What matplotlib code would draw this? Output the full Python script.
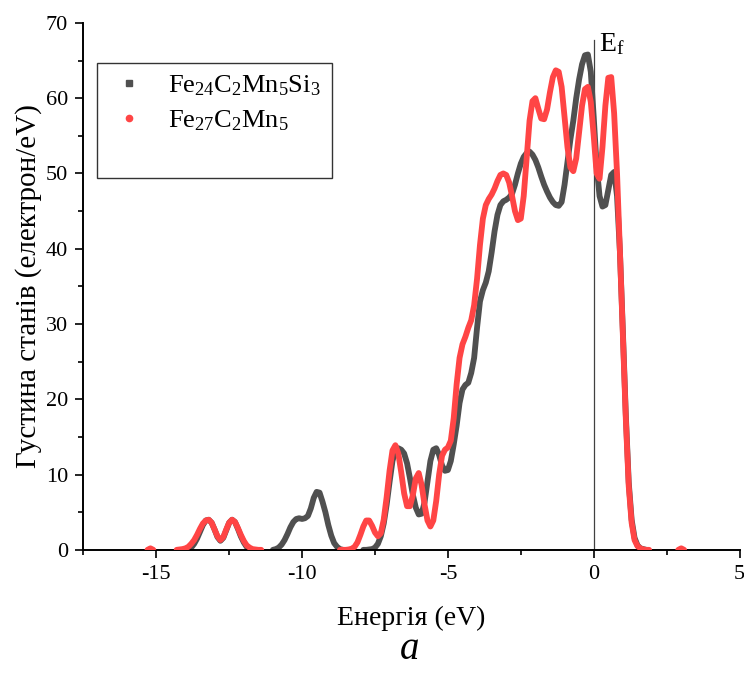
import numpy as np
import matplotlib
matplotlib.use("Agg")
import matplotlib.pyplot as plt
from matplotlib.lines import Line2D
from matplotlib.ticker import MultipleLocator

plt.rcParams['font.family'] = ['Liberation Serif', 'DejaVu Serif']
plt.rcParams['mathtext.fontset'] = 'custom'
plt.rcParams['mathtext.rm'] = 'Liberation Serif'
plt.rcParams['mathtext.it'] = 'Liberation Serif:italic'
plt.rcParams['axes.unicode_minus'] = False

step = 0.1

# Fe24C2Mn5Si3 : start energy of each piece and its DOS values
black_starts = [-14.0, -11.0, -7.9]
black_vals = [
    [0.0, 0.1, 0.3, 0.8, 1.5, 2.4, 3.3, 3.9, 4.0, 3.6, 2.7, 1.7, 1.2, 1.6, 2.6, 3.6,
     4.0, 3.7, 2.8, 1.8, 1.0, 0.4, 0.1, 0.0],
    [0.0, 0.1, 0.3, 0.7, 1.3, 2.1, 3.0, 3.7, 4.1, 4.2, 4.1, 4.2, 4.5, 5.5, 6.9, 7.7,
     7.6, 6.4, 5.0, 3.3, 1.9, 0.9, 0.4, 0.1, 0.0],
    [0.0, 0.0, 0.05, 0.1, 0.3, 0.8, 1.8, 3.5, 6.0, 9.0, 11.8, 13.2, 13.5, 13.3, 12.8,
     11.5, 9.5, 7.3, 5.6, 4.7, 4.8, 6.3, 9.0, 11.8, 13.3, 13.5, 12.6, 11.2, 10.5, 10.6,
     11.8, 14.0, 16.5, 19.5, 21.3, 21.9, 22.2, 23.5, 25.5, 29.5, 33.0, 34.5, 35.5, 37.0,
     39.5, 42.3, 44.5, 45.8, 46.3, 46.5, 46.8, 47.3, 48.5, 50.0, 51.3, 52.2, 52.7, 52.9,
     52.5, 51.8, 50.8, 49.6, 48.5, 47.6, 46.8, 46.2, 45.8, 45.7, 46.2, 48.5, 51.5, 54.5,
     57.0, 60.0, 62.5, 64.5, 65.7, 65.8, 63.5, 57.5, 51.0, 47.0, 45.6, 45.8, 47.8, 49.8,
     50.2, 47.0, 39.5, 29.0, 18.0, 9.0, 4.0, 1.6, 0.6, 0.2, 0.1, 0.0],
]

# Fe27C2Mn5
red_starts = [-15.3, -14.3, -8.7, 2.9]
red_vals = [
    [0.0, 0.2, 0.0],
    [0.0, 0.05, 0.1, 0.2, 0.4, 0.8, 1.3, 2.0, 2.8, 3.5, 3.9, 4.0, 3.6, 2.7, 1.8, 1.3,
     1.7, 2.7, 3.6, 4.0, 3.7, 2.9, 2.0, 1.2, 0.6, 0.3, 0.1, 0.05, 0.0, 0.0],
    [0.0, 0.0, 0.0, 0.05, 0.15, 0.4, 1.0, 2.0, 3.1, 3.9, 3.9, 3.2, 2.3, 1.8, 2.2, 4.0,
     7.0, 10.5, 13.2, 13.9, 12.8, 10.3, 7.5, 5.8, 5.8, 7.3, 9.5, 10.2, 8.6, 6.0, 3.9,
     3.1, 3.9, 6.5, 10.0, 12.5, 13.3, 13.6, 14.5, 17.5, 22.0, 25.5, 27.3, 28.3, 29.5,
     30.5, 32.5, 36.0, 40.5, 44.0, 45.8, 46.6, 47.2, 48.0, 49.0, 49.8, 50.0, 49.8, 48.8,
     47.0, 45.0, 43.8, 44.0, 47.0, 52.0, 57.0, 59.6, 60.0, 58.6, 57.3, 57.2, 58.5, 60.8,
     62.8, 63.7, 63.5, 61.5, 57.5, 53.5, 50.8, 50.3, 52.0, 55.5, 59.0, 61.2, 61.5, 59.5,
     55.0, 50.0, 49.3, 53.5, 59.0, 62.7, 62.8, 58.0, 50.0, 39.5, 28.5, 17.5, 8.5, 3.6,
     1.3, 0.5, 0.2, 0.05, 0.0, 0.0],
    [0.0, 0.2, 0.0],
]

black_label = r'Fe$_{24}$C$_2$Mn$_5$Si$_3$'
red_label = r'Fe$_{27}$C$_2$Mn$_5$'
black_col = '#505050'
red_col = '#ff4545'


def join_pieces(starts, vals):
    xs, ys = [], []
    for s, v in zip(starts, vals):
        xs.extend(list(s + step * np.arange(len(v))) + [np.nan])
        ys.extend(list(v) + [np.nan])
    return np.array(xs), np.array(ys)


xb, yb = join_pieces(black_starts, black_vals)
xr, yr = join_pieces(red_starts, red_vals)

fig = plt.figure(figsize=(7.44, 6.73), dpi=100)
ax = fig.add_axes([0.112, 0.183, 0.882, 0.783])

ax.plot(xb, yb, color=black_col, lw=4.2, solid_capstyle='round', zorder=2)
ax.plot(xr, yr, color=red_col, lw=4.2, solid_capstyle='round', zorder=3)

# Fermi level
ax.plot([0, 0], [0, 67.7], color='#404040', lw=0.9, zorder=1)
ax.text(0.18, 66.3, r'E$_\mathrm{f}$', fontsize=20, ha='left', va='baseline')

ax.set_xlim(-17.5, 5)
ax.set_ylim(0, 70)
ax.xaxis.set_major_locator(MultipleLocator(5))
ax.xaxis.set_minor_locator(MultipleLocator(2.5))
ax.yaxis.set_major_locator(MultipleLocator(10))
ax.yaxis.set_minor_locator(MultipleLocator(5))
ax.tick_params(which='major', direction='out', length=6, width=1.2, labelsize=16, pad=5)
ax.tick_params(which='minor', direction='out', length=3.5, width=1.2)
for side in ['top', 'right']:
    ax.spines[side].set_visible(False)
for side in ['left', 'bottom']:
    ax.spines[side].set_linewidth(1.4)

ax.set_xlabel('Енергія (eV)', fontsize=20, labelpad=16)
ax.set_ylabel('Густина станів (електрон/eV)', fontsize=21, labelpad=3)

handles = [
    Line2D([], [], ls='none', marker='s', ms=4.5, color=black_col, label=black_label),
    Line2D([], [], ls='none', marker='o', ms=4.5, color=red_col, label=red_label),
    Line2D([], [], ls='none', label=' '),
]
leg = ax.legend(handles=handles, loc='upper left', bbox_to_anchor=(0.021, 0.924),
                borderaxespad=0, fontsize=19, frameon=True, fancybox=False,
                edgecolor='black', handlelength=1.6, handletextpad=0.7,
                borderpad=0.4, labelspacing=0.4)
leg.get_frame().set_linewidth(1.0)

fig.text(0.55, 0.008, 'a', fontsize=28, style='italic', ha='center', va='bottom')

fig.savefig('out.png', dpi=100)
